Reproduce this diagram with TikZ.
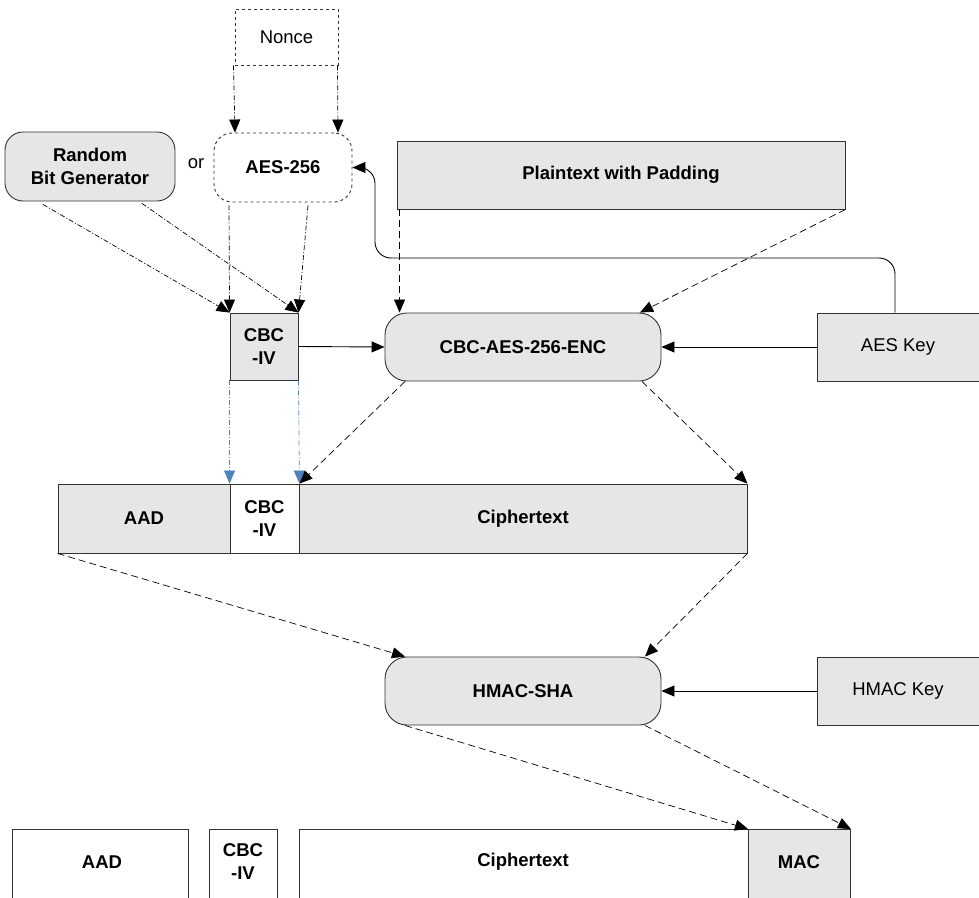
\documentclass[tikz,border=0pt]{standalone}
\usepackage{fontspec}
\setmainfont{Liberation Sans}
\usetikzlibrary{arrows.meta,calc}
\definecolor{boxgray}{RGB}{230,230,230}
\definecolor{ivblue}{RGB}{79,129,189}
\tikzset{
  x=1pt,y=1pt,
  base/.style={draw=black!80,line width=0.9pt,inner sep=0pt,font=\fontsize{18.5}{23}\selectfont,align=center},
  gbox/.style={base,fill=boxgray},
  wbox/.style={base,fill=white},
  rbox/.style={base,fill=boxgray,rounded corners=18pt},
  tip/.style={-{Triangle[length=13pt,width=11pt]}},
  dd/.style={tip,line width=0.7pt,dash pattern=on 5pt off 2pt on 1pt off 2pt},
  ds/.style={tip,line width=0.7pt,dash pattern=on 7pt off 4pt},
  sl/.style={tip,line width=0.9pt},
  bd/.style={font=\fontsize{18.5}{23}\selectfont\bfseries,align=center}
}
\begin{document}
\begin{tikzpicture}
\useasboundingbox (0,0) rectangle (979,-897);
% top
\node[wbox,dashed,minimum width=103,minimum height=56] (nonce) at (286.5,-37) {Nonce};
\node[wbox,dashed,rounded corners=18pt,minimum width=138,minimum height=69,bd] (aes) at (283,-167.5) {AES-256};
\node[rbox,minimum width=170,minimum height=69,bd] (rbg) at (90,-166.5) {Random\\Bit Generator};
\node[font=\fontsize{18.5}{23}\selectfont] (or) at (196,-164) {or};
\node[gbox,minimum width=448,minimum height=68,bd] (plain) at (621,-175) {Plaintext with Padding};
% row 2
\node[gbox,minimum width=68,minimum height=67,bd] (iv1) at (264,-346.5) {CBC\\-IV};
\node[rbox,rounded corners=22pt,minimum width=276,minimum height=68,bd] (enc) at (523,-347) {CBC-AES-256-ENC};
\node[gbox,minimum width=162,minimum height=68] (aeskey) at (898,-347) {AES Key};
% row 3
\node[gbox,minimum width=172,minimum height=69,bd] (aad) at (144,-518.5) {AAD};
\node[wbox,minimum width=69,minimum height=69,bd] (iv2) at (264.5,-518.5) {CBC\\-IV};
\node[gbox,minimum width=448,minimum height=69,bd] (ct) at (523,-518.5) {Ciphertext};
% row 4
\node[rbox,rounded corners=22pt,minimum width=276,minimum height=68,bd] (hmac) at (523,-691) {HMAC-SHA};
\node[gbox,minimum width=162,minimum height=68] (hkey) at (898,-691) {HMAC Key};
% bottom row (cut by page edge)
\node[wbox,minimum width=176,minimum height=90,anchor=north west] (aad3) at (12,-829) {};
\node[wbox,minimum width=68,minimum height=90,anchor=north west] (iv3) at (209,-829) {};
\node[wbox,minimum width=449,minimum height=90,anchor=north west] (ct3) at (299,-829) {};
\node[gbox,minimum width=102,minimum height=90,anchor=north west] (mac) at (748,-829) {};
\node[bd] (aad3t) at (102,-862) {AAD};
\node[bd] (iv3t) at (243,-862) {CBC\\-IV};
\node[bd] (ct3t) at (523,-862) {Ciphertext};
\node[bd] (mact) at (799,-862) {MAC};
% connectors
\draw[dd] ([xshift=-53]nonce.south) -- ([xshift=-48]aes.north);
\draw[dd] ([xshift=51]nonce.south) -- ([xshift=55]aes.north);
\draw[dd] ([xshift=-47,yshift=-3]rbg.south) -- (iv1.north west);
\draw[dd] ([xshift=52,yshift=-2]rbg.south) -- (iv1.north east);
\draw[dd] ([xshift=-54,yshift=-3]aes.south) -- (iv1.north west);
\draw[dd] ([xshift=25,yshift=-3]aes.south) -- (iv1.north east);
\draw[sl,rounded corners=16pt] ([xshift=-3]aeskey.north) |- (375,-258) |- (aes.east);
\draw[ds] (plain.south west) ++(3,0) coordinate (p1) -- (p1 |- enc.north);
\draw[ds] (plain.south east) -- ([xshift=117]enc.north);
\draw[sl] (iv1.east) -- (enc.west);
\draw[sl] (aeskey.west) -- (enc.east);
\draw[dd,draw=ivblue,-{Triangle[length=13pt,width=11pt,fill=ivblue]}] (iv1.south west) -- (iv2.north west);
\draw[dd,draw=ivblue,-{Triangle[length=13pt,width=11pt,fill=ivblue]}] (iv1.south east) -- (iv2.north east);
\draw[ds] ([xshift=-118]enc.south) -- (iv2.north east);
\draw[ds] ([xshift=119]enc.south) -- (ct.north east);
\draw[ds] (aad.south west) -- ([xshift=-118]hmac.north);
\draw[ds] (ct.south east) -- ([xshift=122]hmac.north);
\draw[sl] (hkey.west) -- (hmac.east);
\draw[ds] ([xshift=-118]hmac.south) -- (mac.north west);
\draw[ds] ([xshift=122]hmac.south) -- (mac.north east);
\end{tikzpicture}
\end{document}
